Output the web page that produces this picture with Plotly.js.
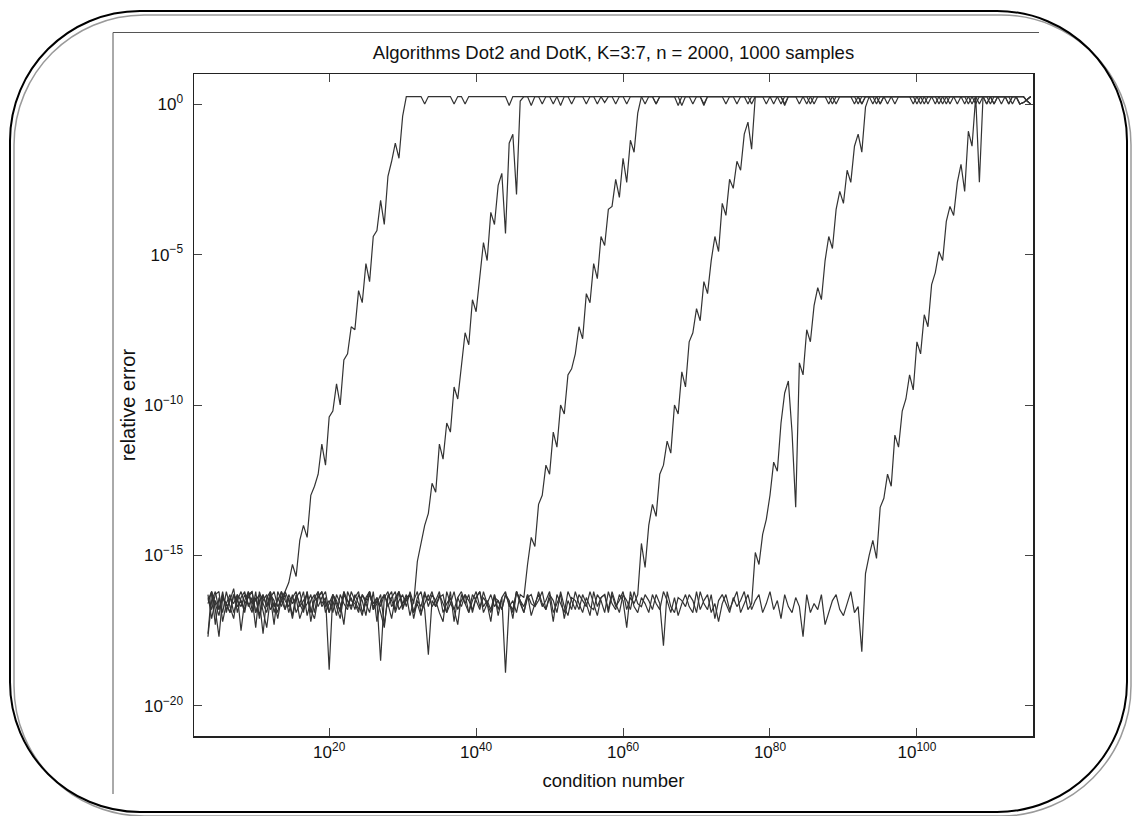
<!DOCTYPE html>
<html>
<head>
<meta charset="utf-8">
<script src="https://cdn.plot.ly/plotly-3.0.1.min.js"></script>
<style>html,body{margin:0;padding:0;background:#fff;}#chart{width:1134px;height:816px;}</style>
</head>
<body>
<div id="chart"></div>
<script>
// log10(condition number) of the samples
const logCond = [
3.5,4,4.5,5,5.5,6,6.5,7,7.5,8,
8.5,9,9.5,10,10.5,11,11.5,12,12.5,13,
13.5,14,14.5,15,15.5,16,16.5,17,17.5,18,
18.5,19,19.5,20,20.5,21,21.5,22,22.5,23,
23.5,24,24.5,25,25.5,26,26.5,27,27.5,28,
28.5,29,29.5,30,30.5,31,31.5,32,32.5,33,
33.5,34,34.5,35,35.5,36,36.5,37,37.5,38,
38.5,39,39.5,40,40.5,41,41.5,42,42.5,43,
43.5,44,44.5,45,45.5,46,46.5,47,47.5,48,
48.5,49,49.5,50,50.5,51,51.5,52,52.5,53,
53.5,54,54.5,55,55.5,56,56.5,57,57.5,58,
58.5,59,59.5,60,60.5,61,61.5,62,62.5,63,
63.5,64,64.5,65,65.5,66,66.5,67,67.5,68,
68.5,69,69.5,70,70.5,71,71.5,72,72.5,73,
73.5,74,74.5,75,75.5,76,76.5,77,77.5,78,
78.5,79,79.5,80,80.5,81,81.5,82,82.5,83,
83.5,84,84.5,85,85.5,86,86.5,87,87.5,88,
88.5,89,89.5,90,90.5,91,91.5,92,92.5,93,
93.5,94,94.5,95,95.5,96,96.5,97,97.5,98,
98.5,99,99.5,100,100.5,101,101.5,102,102.5,103,
103.5,104,104.5,105,105.5,106,106.5,107,107.5,108,
108.5,109,109.5,110,110.5,111,111.5,112,112.5,113,
113.5,114,114.5,115,115.5];

// log10(relative error) for each algorithm
const errDot2 = [
-17.6,-16.2,-16.6,-17.0,-16.3,-16.8,-16.5,-16.1,-16.9,-16.4,
-16.2,-16.7,-16.4,-17.4,-16.2,-16.6,-16.9,-16.3,-16.5,-17.1,
-16.4,-16.2,-15.9,-15.3,-15.7,-14.5,-14.0,-14.4,-13.0,-12.7,
-12.3,-11.3,-12.0,-10.4,-10.2,-9.3,-10.0,-8.5,-8.3,-7.4,
-7.5,-6.2,-6.6,-5.3,-5.9,-4.4,-4.2,-3.2,-4.0,-2.4,
-1.9,-1.3,-1.8,-0.4,0.25,0.25,0.25,0.25,0.25,0.0,
0.25,0.25,0.25,0.25,0.25,0.25,0.25,0.0,0.25,0.25,
0.0,0.25,0.25,0.25,0.25,0.25,0.25,0.25,0.25,0.25,
0.25,0.25,-0.05,0.25,0.25,0.25,0.25,0.25,0.25,0.25,
0.25,0.0,0.25,0.25,0.25,0.25,-0.05,0.25,0.25,0.25,
0.25,0.25,0.25,0.0,0.25,0.25,0.25,0.25,0.05,0.25,
0.25,0.25,0.25,0.25,0.0,0.25,0.25,0.25,0.25,0.25,
0.25,0.25,0.0,0.25,0.25,0.25,0.25,0.25,0.25,0.25,
0.25,0.25,0.25,0.25,0.25,-0.05,0.25,0.25,0.25,0.25,
0.25,0.25,0.25,0.25,0.25,0.25,0.25,0.0,0.25,0.25,
0.25,0.25,0.25,0.25,0.0,0.25,0.25,0.25,0.25,0.25,
0.25,0.0,0.25,0.25,0.25,0.25,0.25,0.25,0.25,0.0,
0.25,0.25,0.25,0.25,0.25,0.25,0.0,0.25,0.25,0.25,
0.25,0.25,0.25,0.0,0.25,0.25,0.25,0.25,0.25,0.25,
0.25,0.25,0.25,0.25,0.25,0.0,0.25,0.25,0.25,0.25,
0.25,0.0,0.25,0.25,0.25,0.25,0.25,0.25,0.0,0.25,
0.25,0.25,0.25,0.25,0.0,0.25,0.25,0.25,0.25,0.25,
0.25,0.25,0.25,0.1,0.0];

const errDot3 = [
-16.6,-16.2,-17.3,-16.4,-16.9,-16.2,-16.7,-17.1,-16.3,-16.5,
-16.8,-16.3,-16.2,-16.9,-16.5,-17.6,-16.4,-16.2,-16.7,-16.5,
-16.2,-16.8,-16.4,-17.0,-16.3,-16.6,-16.9,-16.2,-17.2,-16.5,
-16.4,-16.2,-16.9,-16.6,-16.3,-16.7,-17.1,-16.3,-16.5,-16.8,
-16.3,-16.6,-17.0,-16.4,-16.2,-16.8,-16.6,-16.3,-17.3,-16.4,
-16.2,-16.9,-16.5,-16.3,-16.7,-16.2,-16.6,-15.2,-14.6,-14.0,
-13.6,-12.6,-12.9,-11.3,-11.8,-10.6,-10.9,-9.4,-9.8,-8.6,
-7.6,-8.0,-6.5,-6.9,-5.7,-4.6,-5.2,-3.6,-4.0,-2.7,
-2.3,-4.3,-1.3,-1.0,-3.0,0.1,0.25,0.25,-0.05,0.25,
0.25,0.25,0.25,0.25,0.0,0.25,0.25,0.25,0.25,0.0,
0.25,0.25,0.25,0.25,0.25,0.25,0.0,0.25,0.25,0.25,
0.25,0.0,0.25,0.25,0.25,0.25,0.25,0.25,0.25,0.0,
0.25,0.25,0.25,0.25,0.25,0.25,0.25,0.25,-0.05,0.25,
0.25,0.25,0.0,0.25,0.25,0.25,0.25,0.25,0.25,0.25,
0.25,0.25,0.25,0.25,0.0,0.25,0.25,0.25,0.25,0.25,
0.25,0.25,0.25,0.25,0.25,0.25,0.25,0.0,0.25,0.25,
0.25,0.25,0.25,0.0,0.25,0.25,0.25,0.25,0.25,0.25,
0.25,0.25,0.25,0.25,0.25,0.25,0.25,0.25,0.0,0.25,
0.25,0.0,0.25,0.25,0.25,0.25,0.25,0.25,0.25,0.25,
0.25,0.25,0.25,0.0,0.25,0.25,0.25,0.25,0.25,0.0,
0.25,0.25,0.25,0.25,0.25,0.25,0.0,0.25,0.25,0.25,
0.25,0.25,0.0,0.25,0.25,0.25,0.25,0.25,0.25,0.0,
0.25,0.0,0.05,0.15,0.25];

const errDot4 = [
-16.3,-17.1,-16.5,-16.8,-16.2,-16.9,-16.4,-16.6,-16.3,-17.5,
-16.5,-16.2,-16.8,-16.4,-17.0,-16.3,-16.7,-16.2,-16.9,-16.4,
-16.7,-16.2,-16.5,-17.1,-16.4,-16.2,-16.8,-16.6,-16.3,-16.9,
-16.2,-16.6,-16.4,-18.8,-16.3,-16.5,-16.9,-16.2,-16.7,-16.4,
-16.8,-16.3,-16.5,-17.0,-16.2,-16.6,-16.4,-16.9,-17.4,-16.3,
-16.5,-16.8,-16.2,-16.6,-16.4,-16.3,-17.1,-16.5,-16.7,-16.2,
-16.7,-16.3,-16.5,-16.9,-17.2,-16.2,-16.6,-16.8,-16.4,-16.2,
-16.6,-16.3,-16.9,-16.4,-16.2,-16.7,-16.5,-16.8,-16.3,-17.0,
-16.4,-16.2,-16.7,-16.5,-16.9,-16.3,-16.4,-15.3,-14.4,-14.7,
-13.3,-13.0,-12.0,-12.3,-10.9,-11.4,-10.0,-10.3,-9.0,-8.8,
-8.3,-7.4,-7.8,-6.3,-6.6,-5.3,-5.8,-4.4,-4.7,-3.5,
-3.4,-2.5,-3.1,-1.8,-2.6,-1.2,-1.6,-0.3,0.25,0.25,
0.25,0.25,0.0,0.25,0.25,0.25,0.25,0.25,0.25,-0.05,
0.25,0.25,0.25,0.25,0.25,0.0,0.25,0.25,0.25,0.25,
0.25,0.0,0.25,0.25,0.25,0.25,0.25,0.25,0.0,0.25,
0.25,0.25,0.25,0.25,0.25,0.25,0.0,0.25,0.25,0.25,
0.25,0.25,0.25,0.25,0.0,0.25,0.25,0.25,0.25,0.25,
0.25,0.0,0.25,0.25,0.25,0.25,0.25,0.0,0.25,0.25,
0.25,0.25,0.25,0.25,0.25,0.0,0.25,0.25,0.25,0.25,
0.25,0.25,0.0,0.25,0.25,0.25,0.25,0.25,0.0,0.25,
0.25,0.25,0.25,0.25,0.0,0.25,0.25,0.25,0.25,0.25,
0.0,0.25,0.25,0.25,0.25,0.25,0.0,0.25,0.25,0.25,
0.25,0.25,0.25,0.1,0.0];

const errDot5 = [
-16.4,-16.8,-16.3,-16.2,-17.2,-16.6,-16.9,-16.3,-16.7,-16.5,
-16.9,-16.2,-16.6,-16.5,-16.3,-16.8,-17.4,-16.4,-16.2,-16.7,
-16.5,-16.3,-16.9,-16.4,-16.2,-16.7,-16.5,-16.3,-16.8,-17.1,
-16.4,-16.2,-16.7,-16.5,-16.9,-16.3,-16.6,-17.3,-16.2,-16.5,
-16.6,-16.9,-16.3,-16.5,-16.2,-16.8,-16.4,-16.7,-16.3,-16.6,
-17.1,-16.4,-16.2,-16.7,-16.5,-16.3,-16.9,-16.4,-16.2,-16.8,
-18.3,-16.5,-16.7,-16.3,-16.6,-16.9,-16.2,-17.2,-16.4,-16.7,
-16.3,-16.5,-16.8,-16.4,-16.2,-16.9,-16.6,-16.3,-16.7,-16.5,
-16.8,-16.3,-16.5,-17.1,-16.2,-16.6,-16.9,-16.4,-16.3,-16.7,
-16.2,-16.6,-16.8,-16.3,-16.5,-16.9,-16.2,-16.7,-17.0,-16.4,
-16.5,-16.8,-16.3,-16.6,-17.0,-16.2,-16.7,-16.4,-16.3,-16.9,
-16.3,-16.7,-16.5,-16.2,-16.8,-16.4,-16.6,-16.3,-14.6,-15.4,
-14.0,-13.3,-13.7,-12.3,-12.0,-11.2,-11.6,-10.0,-10.3,-8.9,
-9.4,-7.9,-7.6,-6.8,-7.2,-5.9,-6.3,-5.2,-4.4,-4.9,
-3.3,-3.7,-2.5,-2.8,-1.9,-2.2,-1.0,-0.6,-1.5,0.25,
0.25,0.25,0.0,0.25,0.25,0.25,0.25,-0.05,0.25,0.25,
0.25,0.25,0.25,0.25,0.25,0.0,0.25,0.25,0.25,0.25,
0.0,0.25,0.25,0.25,0.25,0.25,0.25,0.25,0.0,0.25,
0.25,0.25,0.25,0.0,0.25,0.25,0.25,0.25,0.25,0.25,
0.25,0.25,0.25,0.25,0.25,0.25,0.0,0.25,0.25,0.25,
0.25,0.25,0.0,0.25,0.25,0.25,0.25,0.25,0.25,0.0,
0.25,0.25,0.25,0.25,0.0,0.25,0.25,0.25,0.25,0.25,
0.25,0.0,0.05,0.15,0.25];

const errDot6 = [
-17.7,-16.5,-16.2,-16.8,-16.4,-16.6,-16.3,-16.9,-16.5,-16.2,
-16.6,-16.4,-16.2,-16.9,-16.5,-16.3,-16.7,-16.4,-17.3,-16.2,
-16.5,-16.8,-16.3,-16.6,-16.4,-17.1,-16.7,-16.2,-16.9,-16.4,
-16.2,-16.7,-16.5,-16.9,-16.3,-16.6,-16.8,-16.2,-16.5,-16.7,
-16.4,-16.2,-16.9,-16.6,-16.3,-16.7,-16.5,-18.5,-16.4,-16.2,
-16.7,-16.5,-16.2,-16.8,-16.4,-16.3,-16.9,-16.6,-17.0,-16.3,
-16.5,-16.2,-16.7,-16.4,-16.3,-16.9,-16.6,-16.2,-16.8,-16.5,
-16.3,-16.9,-16.5,-16.2,-16.7,-16.4,-16.6,-17.2,-16.3,-16.8,
-16.4,-18.9,-16.6,-16.8,-16.2,-16.5,-16.9,-16.3,-16.6,-16.7,
-16.5,-16.2,-16.8,-16.4,-17.2,-16.3,-16.6,-16.9,-16.2,-16.5,
-16.8,-16.3,-16.5,-16.7,-16.2,-16.6,-17.0,-16.4,-16.3,-16.8,
-16.2,-16.6,-16.9,-16.3,-16.5,-16.8,-16.2,-16.6,-16.7,-16.3,
-16.5,-16.8,-16.3,-16.6,-18.0,-16.2,-16.7,-16.9,-16.4,-16.5,
-16.7,-16.3,-16.5,-16.9,-16.2,-16.6,-16.8,-16.3,-17.1,-16.5,
-16.3,-16.6,-16.9,-16.4,-16.7,-16.5,-16.2,-16.8,-16.6,-14.9,
-15.3,-14.3,-13.8,-13.0,-11.9,-12.2,-10.6,-9.6,-9.2,-10.9,
-13.4,-8.6,-9.0,-7.5,-7.9,-6.7,-6.1,-6.5,-5.2,-4.4,
-4.8,-3.5,-2.9,-3.3,-2.2,-2.6,-1.4,-1.0,-1.6,-0.1,
0.25,0.25,0.0,0.25,0.25,0.25,0.25,0.0,0.25,0.25,
0.25,0.25,0.25,0.25,0.0,0.25,0.25,0.25,0.25,0.25,
0.0,0.25,0.25,0.25,0.25,0.25,0.25,0.0,0.25,0.25,
0.25,0.25,0.0,0.25,0.25,0.25,0.25,0.25,0.0,0.25,
0.25,0.25,0.25,0.1,0.0];

const errDot7 = [
-16.5,-16.2,-16.8,-17.7,-16.4,-16.6,-16.9,-16.3,-16.5,-16.7,
-16.3,-16.6,-16.9,-16.2,-17.1,-16.5,-16.3,-16.8,-16.6,-16.9,
-16.2,-16.5,-16.7,-16.3,-16.9,-16.6,-16.2,-17.0,-16.5,-16.3,
-16.7,-16.4,-16.2,-16.9,-16.5,-17.0,-16.3,-16.6,-16.8,-16.2,
-16.5,-16.8,-16.3,-16.6,-16.9,-16.2,-17.2,-16.5,-16.3,-16.7,
-16.4,-16.2,-16.8,-16.6,-16.3,-17.0,-16.5,-16.2,-16.9,-16.6,
-16.3,-16.7,-16.5,-16.2,-16.9,-16.6,-16.4,-16.8,-17.3,-16.3,
-16.6,-16.9,-16.3,-16.5,-16.8,-16.2,-16.6,-16.9,-16.4,-16.5,
-16.8,-16.3,-16.6,-16.9,-16.2,-16.5,-16.7,-16.3,-17.0,-16.6,
-16.3,-16.7,-16.5,-16.2,-16.9,-16.6,-16.3,-17.1,-16.5,-16.8,
-16.2,-16.6,-16.9,-16.4,-16.7,-16.8,-16.3,-16.5,-16.9,-16.2,
-16.6,-16.8,-16.3,-16.5,-17.4,-16.2,-16.7,-16.9,-16.4,-16.6,
-16.9,-16.3,-16.6,-16.8,-16.2,-16.5,-16.9,-16.4,-17.0,-16.6,
-16.3,-16.7,-16.9,-16.2,-16.8,-16.5,-16.3,-16.9,-16.6,-17.2,
-16.6,-16.3,-16.8,-16.5,-16.2,-16.9,-16.6,-16.3,-16.8,-16.5,
-16.3,-16.9,-16.6,-16.2,-16.8,-16.5,-17.1,-16.3,-16.7,-16.9,
-16.4,-16.7,-17.7,-16.3,-16.9,-16.6,-16.8,-16.3,-17.3,-16.9,
-16.5,-16.3,-16.8,-17.0,-16.6,-16.2,-16.9,-16.7,-18.2,-15.6,
-15.0,-14.5,-15.1,-13.4,-13.1,-12.3,-12.7,-11.0,-11.4,-10.2,
-9.8,-9.0,-9.5,-7.9,-8.3,-7.0,-7.4,-6.0,-5.6,-4.9,
-5.2,-3.9,-3.4,-3.7,-2.6,-2.0,-2.9,-0.9,-1.4,0.25,
-2.6,0.25,0.25,0.0,0.25,0.25,0.25,0.25,0.0,0.25,
0.25,0.0,0.05,0.15,0.25];

const seriesNames = ['Dot2', 'Dot3', 'Dot4', 'Dot5', 'Dot6', 'Dot7'];
const seriesErr = [errDot2, errDot3, errDot4, errDot5, errDot6, errDot7];

const xTickExp = [20, 40, 60, 80, 100];
const xTickText = ['10<sup>20</sup>', '10<sup>40</sup>', '10<sup>60</sup>', '10<sup>80</sup>', '10<sup>100</sup>'];
const yTickExp = [0, -5, -10, -15, -20];
const yTickText = ['10<sup>0</sup>', '10<sup>\u22125</sup>', '10<sup>\u221210</sup>', '10<sup>\u221215</sup>', '10<sup>\u221220</sup>'];

// ---- drawing ----
const FONT = 'Liberation Sans, Arial, Helvetica, sans-serif';
const condVals = logCond.map(v => Math.pow(10, v));
const traces = seriesErr.map((arr, k) => ({
  type: 'scatter', mode: 'lines', name: seriesNames[k],
  x: condVals, y: arr.map(v => Math.pow(10, v)),
  line: {color: '#333333', width: 1.2},
  hoverinfo: 'skip', showlegend: false
}));

// page decoration (pixel -> paper)
const PL = 194, PR = 1033, PT = 74, PB = 736;
const fx = x => (x - PL) / (PR - PL);
const fy = y => (PB - y) / (PB - PT);
const pt = (x, y) => fx(x).toFixed(5) + ',' + fy(y).toFixed(5);
function rrect(x0, y0, x1, y1, r) {
  const k = 0.5523 * r;
  return 'M' + pt(x0 + r, y0) + ' L' + pt(x1 - r, y0) +
    ' C' + pt(x1 - r + k, y0) + ' ' + pt(x1, y0 + r - k) + ' ' + pt(x1, y0 + r) +
    ' L' + pt(x1, y1 - r) +
    ' C' + pt(x1, y1 - r + k) + ' ' + pt(x1 - r + k, y1) + ' ' + pt(x1 - r, y1) +
    ' L' + pt(x0 + r, y1) +
    ' C' + pt(x0 + r - k, y1) + ' ' + pt(x0, y1 - r + k) + ' ' + pt(x0, y1 - r) +
    ' L' + pt(x0, y0 + r) +
    ' C' + pt(x0, y0 + r - k) + ' ' + pt(x0 + r - k, y0) + ' ' + pt(x0 + r, y0) + ' Z';
}
const shapes = [
  {type: 'path', xref: 'paper', yref: 'paper', path: rrect(14, 15, 1131, 816, 130), line: {color: '#9a9a9a', width: 1.5}},
  {type: 'path', xref: 'paper', yref: 'paper', path: rrect(10, 11, 1127, 812, 130), line: {color: '#000', width: 2}},
  {type: 'line', xref: 'paper', yref: 'paper', x0: fx(113), x1: fx(113), y0: fy(32.5), y1: fy(794), line: {color: '#555', width: 1}},
  {type: 'line', xref: 'paper', yref: 'paper', x0: fx(113), x1: fx(1039), y0: fy(32.5), y1: fy(32.5), line: {color: '#555', width: 1}}
];

const axisCommon = {
  type: 'log', showgrid: false, zeroline: false,
  showline: true, linecolor: '#222', linewidth: 1.5, mirror: 'ticks',
  ticks: 'inside', ticklen: 8, tickwidth: 1, tickcolor: '#444',
  tickfont: {family: FONT, size: 17, color: '#111'}
};

const layout = {
  width: 1134, height: 816,
  margin: {l: PL, r: 1134 - PR, t: PT, b: 816 - PB},
  paper_bgcolor: '#fff', plot_bgcolor: '#fff',
  showlegend: false, hovermode: false,
  title: {text: 'Algorithms Dot2 and DotK, K=3:7, n = 2000, 1000 samples',
    font: {family: FONT, size: 18.5, color: '#111'},
    x: 0.5, xref: 'paper', y: 1 - 53 / 816, yref: 'container', yanchor: 'middle'},
  xaxis: Object.assign({}, axisCommon, {
    range: [1.6, 115.8],
    tickvals: xTickExp.map(v => Math.pow(10, v)), ticktext: xTickText,
    title: {text: 'condition number', font: {family: FONT, size: 18.5, color: '#111'}, standoff: 13}
  }),
  yaxis: Object.assign({}, axisCommon, {
    range: [-21, 1],
    tickvals: yTickExp.map(v => Math.pow(10, v)), ticktext: yTickText,
    ticklabelstandoff: 6,
    title: {text: 'relative error', font: {family: FONT, size: 20, color: '#111'}, standoff: 3}
  }),
  shapes: shapes
};

Plotly.newPlot('chart', traces, layout, {displayModeBar: false, staticPlot: true});
</script>
</body>
</html>
